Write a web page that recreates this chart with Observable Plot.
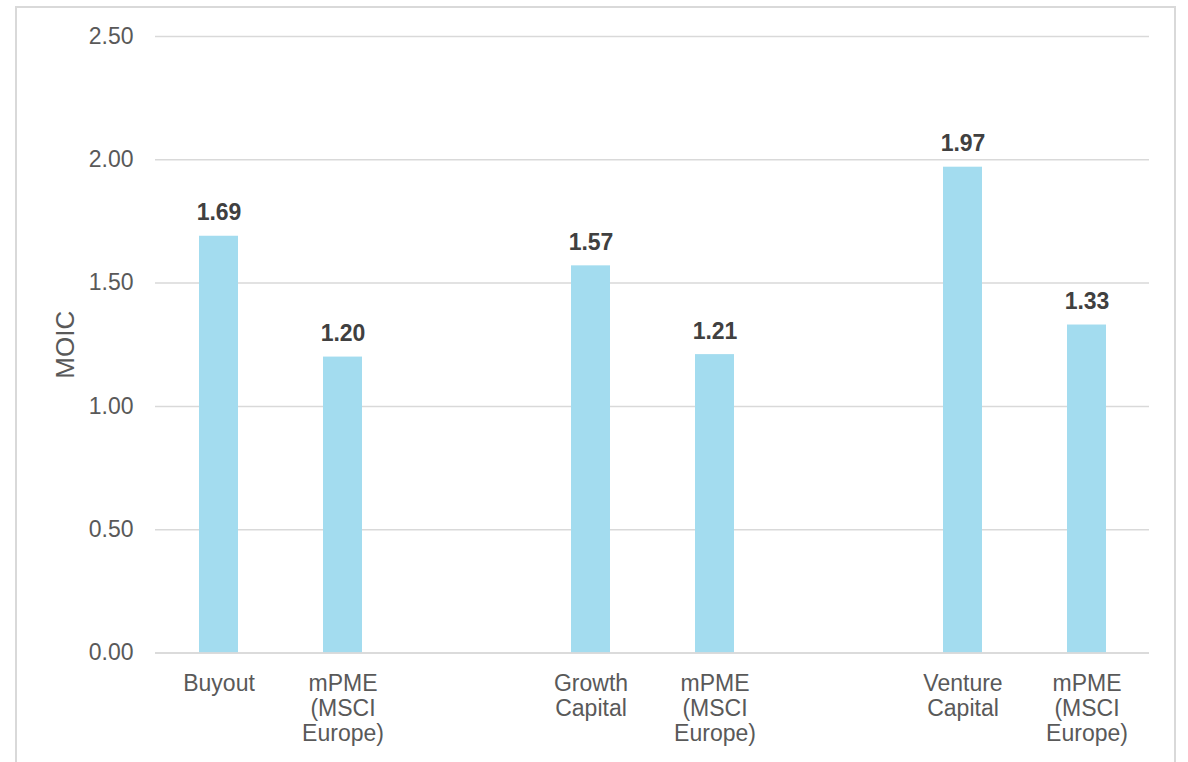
<!DOCTYPE html>
<html>
<head>
<meta charset="utf-8">
<script src="https://cdn.jsdelivr.net/npm/d3@7"></script>
<script src="https://cdn.jsdelivr.net/npm/@observablehq/plot@0.6"></script>
<style>
  html, body { margin: 0; padding: 0; background: #fff; overflow: hidden; }
  #wrap { position: relative; width: 1188px; height: 762px; overflow: hidden; }
  #border { position: absolute; left: 15px; top: 6px; width: 1161px; height: 800px;
            border: 2px solid #d9d9d9; box-sizing: border-box; }
  #chart { position: absolute; left: 0; top: 0; }
  #chart svg { overflow: visible; }
</style>
</head>
<body>
<div id="wrap">
  <div id="border"></div>
  <div id="chart"></div>
</div>
<script>
// Slot keys along the x axis; empty slots separate the three strategy groups
const slots = ["buyout", "mpme1", "gap1", "growth", "mpme2", "gap2", "venture", "mpme3"];
const slotLabels = ["Buyout", "mPME\n(MSCI\nEurope)", "", "Growth\nCapital", "mPME\n(MSCI\nEurope)", "", "Venture\nCapital", "mPME\n(MSCI\nEurope)"];
const moic = [1.69, 1.20, null, 1.57, 1.21, null, 1.97, 1.33];
const yTicks = [0, 0.5, 1.0, 1.5, 2.0, 2.5];

const rows = slots.map((s, i) => ({slot: s, label: slotLabels[i], value: moic[i]}));
const bars = rows.filter(d => d.value != null);

const font = "'Liberation Sans', Arial, sans-serif";

const chart = Plot.plot({
  width: 1188,
  height: 762,
  marginLeft: 155,
  marginRight: 39,
  marginTop: 36,
  marginBottom: 109.5,
  style: {fontFamily: font, fontSize: "23px", background: "transparent"},
  x: {domain: slots, paddingInner: 0.686, paddingOuter: 0.343, axis: null},
  y: {domain: [0, 2.5], axis: null},
  marks: [
    Plot.gridY(yTicks, {stroke: "#d9d9d9", strokeOpacity: 1, strokeWidth: 1.5}),
    Plot.barY(bars, {x: "slot", y: "value", fill: "#a3dcef"}),
    Plot.ruleY([0], {stroke: "#d9d9d9", strokeWidth: 1.5}),
    Plot.axisY(yTicks, {
      tickSize: 0, tickPadding: 22, tickFormat: d3.format(".2f"),
      fill: "#595959", fontSize: 23, label: null
    }),
    Plot.text(bars, {
      x: "slot", y: "value", text: d => d3.format(".2f")(d.value),
      lineAnchor: "bottom", dy: -16, fill: "#404040", fontWeight: "bold", fontSize: 23
    }),
    Plot.text(rows, {
      x: "slot", y: () => 0, text: "label",
      lineAnchor: "top", lineHeight: 1.09, dy: 20, fill: "#595959", fontSize: 23
    }),
    Plot.text(["MOIC"], {
      frameAnchor: "left", dx: -90, rotate: -90, textAnchor: "middle", lineAnchor: "middle",
      fill: "#595959", fontSize: 26
    })
  ]
});

document.getElementById("chart").appendChild(chart);
</script>
</body>
</html>
